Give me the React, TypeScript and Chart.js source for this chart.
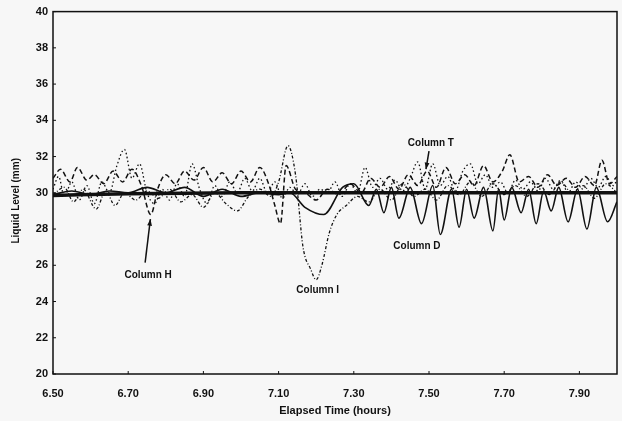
import React, { useEffect, useRef } from "react";
import { Chart, registerables } from "chart.js";

Chart.register(...registerables);

// ---- data ----
const xTickValues = [6.5, 6.7, 6.9, 7.1, 7.3, 7.5, 7.7, 7.9];
const yTickValues = [20, 22, 24, 26, 28, 30, 32, 34, 36, 38, 40];
const xTitle = "Elapsed Time (hours)";
const yTitle = "Liquid Level (mm)";

const refTime = [6.5, 6.7, 7.0, 8.0];
const refLevel = [29.85, 29.95, 30.0, 30.0];

const colDTime = [6.5, 6.55, 6.6, 6.65, 6.7, 6.75, 6.8, 6.85, 6.9, 6.95, 7.0, 7.05, 7.1, 7.13, 7.17, 7.22, 7.27, 7.3, 7.34, 7.36, 7.38, 7.4, 7.42, 7.45, 7.48, 7.51, 7.53, 7.56, 7.58, 7.6, 7.62, 7.645, 7.67, 7.685, 7.7, 7.72, 7.745, 7.765, 7.785, 7.805, 7.825, 7.845, 7.87, 7.895, 7.92, 7.945, 7.975, 8.0];
const colDLevel = [29.9, 30.1, 29.9, 30.1, 30.0, 30.3, 30.0, 30.3, 29.8, 30.2, 29.8, 30.0, 29.9, 30.0, 29.2, 28.8, 30.3, 30.5, 29.3, 30.2, 28.9, 30.3, 28.6, 30.3, 28.3, 30.4, 27.7, 30.2, 28.1, 30.2, 28.6, 30.3, 27.9, 30.2, 28.5, 30.3, 28.9, 30.2, 28.3, 30.1, 29.0, 30.3, 28.4, 30.2, 28.0, 30.3, 28.4, 29.5];

const colHTime = [6.5, 6.52, 6.545, 6.565, 6.59, 6.61, 6.635, 6.66, 6.685, 6.71, 6.735, 6.76, 6.78, 6.8, 6.825, 6.85, 6.875, 6.9, 6.925, 6.95, 6.975, 7.0, 7.025, 7.05, 7.075, 7.09, 7.105, 7.12, 7.145, 7.17, 7.2, 7.23, 7.26, 7.29, 7.32, 7.345, 7.37, 7.395, 7.42, 7.445, 7.47, 7.495, 7.52, 7.545, 7.57, 7.595, 7.62, 7.645, 7.67, 7.695, 7.715, 7.74, 7.765, 7.79, 7.815, 7.84, 7.865, 7.89, 7.915, 7.94, 7.96, 7.98, 8.0];
const colHLevel = [30.8, 31.3, 30.6, 31.4, 30.7, 31.0, 30.5, 31.2, 30.6, 31.3, 30.4, 28.8, 30.3, 31.0, 30.5, 31.2, 30.7, 31.4, 30.6, 31.1, 30.5, 31.2, 30.6, 31.4, 30.4, 29.3, 28.3, 31.5, 30.2, 30.0, 29.6, 30.2, 29.9, 30.5, 30.0, 30.8, 30.3, 30.9, 30.2, 31.0, 30.4, 31.2, 30.3, 31.4, 30.5, 31.0, 30.4, 31.5, 30.6, 31.2, 32.1, 30.6, 30.9, 30.3, 31.0, 30.4, 30.8, 30.3, 30.9, 30.4, 31.8, 30.5, 30.9];

const colTTime = [6.5, 6.515, 6.53, 6.55, 6.57, 6.59, 6.61, 6.63, 6.65, 6.67, 6.69, 6.71, 6.73, 6.75, 6.77, 6.79, 6.81, 6.83, 6.85, 6.87, 6.89, 6.91, 6.93, 6.95, 6.97, 6.99, 7.01, 7.03, 7.05, 7.07, 7.09, 7.11, 7.13, 7.15, 7.17, 7.19, 7.21, 7.23, 7.25, 7.27, 7.29, 7.31, 7.33, 7.35, 7.37, 7.39, 7.41, 7.43, 7.45, 7.47, 7.49, 7.51, 7.53, 7.55, 7.57, 7.59, 7.61, 7.63, 7.65, 7.67, 7.69, 7.71, 7.73, 7.75, 7.77, 7.79, 7.81, 7.83, 7.85, 7.87, 7.89, 7.91, 7.93, 7.95, 7.97, 7.99, 8.0];
const colTLevel = [30.2, 30.9, 29.8, 30.6, 29.6, 30.4, 29.4, 30.6, 30.0, 31.5, 32.4, 30.8, 31.6, 30.0, 29.4, 30.2, 29.6, 30.5, 29.8, 31.6, 30.2, 29.4, 30.4, 29.8, 30.6, 30.0, 30.8, 30.1, 30.8, 30.0, 30.6, 29.7, 30.3, 29.9, 30.5, 29.8, 30.2, 30.0, 30.6, 29.8, 30.5, 30.0, 31.4, 30.3, 30.8, 30.2, 30.7, 30.1, 30.8, 31.7, 30.2, 31.6, 30.4, 30.9, 30.1, 31.2, 31.6, 30.5, 31.0, 30.3, 30.6, 30.0, 30.7, 30.2, 30.6, 30.1, 30.8, 30.2, 30.7, 30.0, 30.6, 30.2, 30.8, 30.3, 30.9, 30.4, 30.7];

const colITime = [6.5, 6.53, 6.555, 6.58, 6.615, 6.64, 6.665, 6.69, 6.72, 6.75, 6.78, 6.81, 6.84, 6.87, 6.9, 6.93, 6.96, 6.99, 7.02, 7.05, 7.08, 7.1, 7.125, 7.145, 7.165, 7.185, 7.2, 7.215, 7.235, 7.255, 7.28, 7.31, 7.34, 7.37, 7.4, 7.43, 7.46, 7.49, 7.52, 7.55, 7.58, 7.61, 7.64, 7.67, 7.7, 7.73, 7.76, 7.79, 7.82, 7.85, 7.88, 7.91, 7.94, 7.97, 8.0];
const colILevel = [29.9, 30.3, 29.5, 30.2, 29.1, 30.1, 29.3, 30.0, 29.6, 30.1, 29.7, 30.2, 29.5, 29.9, 29.2, 30.0, 29.4, 29.0, 29.8, 30.2, 29.8, 30.6, 32.6, 31.0, 27.0, 25.8, 25.2, 26.0, 27.8, 28.8, 29.3, 29.8, 29.5, 30.2, 29.6, 30.5, 29.8, 30.2, 29.6, 30.4, 29.9, 30.6, 29.8, 30.5, 29.9, 30.4, 29.8, 30.5, 29.9, 30.6, 30.0, 30.4, 29.7, 30.5, 30.0];

const labelTexts = ["Column H", "Column I", "Column T", "Column D"];
const labelTime = [6.753, 7.204, 7.505, 7.468];
const labelLevel = [25.45, 24.6, 32.75, 27.05];

const arrowFromTime = [6.745, 7.5];
const arrowFromLevel = [26.15, 32.3];
const arrowToTime = [6.759, 7.492];
const arrowToLevel = [28.55, 31.3];

const pts = (t: number[], v: number[]) => t.map((x, i) => ({ x, y: v[i] }));

const INK = "#111";
const FONT = "'Liberation Sans', Arial, sans-serif";

const decorPlugin = {
  id: "decor",
  afterDatasetsDraw(chart: any) {
    const { ctx, chartArea: a, scales } = chart;
    const xs = scales.x;
    const ys = scales.y;
    ctx.save();
    ctx.strokeStyle = INK;
    ctx.lineWidth = 1.5;
    ctx.strokeRect(a.left, a.top, a.right - a.left, a.bottom - a.top);
    ctx.lineWidth = 1;
    yTickValues.forEach((v) => {
      const py = ys.getPixelForValue(v);
      ctx.beginPath();
      ctx.moveTo(a.left, py);
      ctx.lineTo(a.left + 3, py);
      ctx.stroke();
    });
    xTickValues.forEach((v) => {
      const px = xs.getPixelForValue(v);
      ctx.beginPath();
      ctx.moveTo(px, a.bottom);
      ctx.lineTo(px, a.bottom - 3);
      ctx.stroke();
    });
    ctx.fillStyle = INK;
    ctx.font = `bold 10px ${FONT}`;
    ctx.textAlign = "center";
    ctx.textBaseline = "middle";
    labelTexts.forEach((t, i) => {
      ctx.fillText(t, xs.getPixelForValue(labelTime[i]), ys.getPixelForValue(labelLevel[i]));
    });
    arrowFromTime.forEach((t, i) => {
      const x0 = xs.getPixelForValue(t);
      const y0 = ys.getPixelForValue(arrowFromLevel[i]);
      const x1 = xs.getPixelForValue(arrowToTime[i]);
      const y1 = ys.getPixelForValue(arrowToLevel[i]);
      ctx.lineWidth = 1.5;
      ctx.beginPath();
      ctx.moveTo(x0, y0);
      ctx.lineTo(x1, y1);
      ctx.stroke();
      const ang = Math.atan2(y1 - y0, x1 - x0);
      const L = 7;
      ctx.beginPath();
      ctx.moveTo(x1, y1);
      ctx.lineTo(x1 - L * Math.cos(ang - 0.35), y1 - L * Math.sin(ang - 0.35));
      ctx.lineTo(x1 - L * Math.cos(ang + 0.35), y1 - L * Math.sin(ang + 0.35));
      ctx.closePath();
      ctx.fill();
    });
    // axis titles
    ctx.font = `bold 11px ${FONT}`;
    ctx.fillText(xTitle, (a.left + a.right) / 2, 411);
    ctx.font = `bold 10px ${FONT}`;
    ctx.translate(16, (a.top + a.bottom) / 2 + 8);
    ctx.rotate(-Math.PI / 2);
    ctx.fillText(yTitle, 0, 0);
    ctx.restore();
  },
};

export default function App() {
  const ref = useRef<HTMLCanvasElement | null>(null);
  useEffect(() => {
    if (!ref.current) return;
    const line = (label: string, t: number[], v: number[], w: number, dash: number[]) => ({
      label,
      data: pts(t, v),
      borderColor: INK,
      borderWidth: w,
      borderDash: dash,
      pointRadius: 0,
      fill: false,
      cubicInterpolationMode: "monotone" as const,
    });
    const chart = new Chart(ref.current, {
      type: "line",
      data: {
        datasets: [
          line("Column T", colTTime, colTLevel, 1.3, [1.5, 2.5]),
          line("Column I", colITime, colILevel, 1.3, [3, 2, 1, 2]),
          line("Column H", colHTime, colHLevel, 1.5, [5, 3]),
          line("Column D", colDTime, colDLevel, 1.6, []),
          line("Reference", refTime, refLevel, 3.5, []),
        ],
      },
      plugins: [decorPlugin],
      options: {
        animation: false,
        responsive: false,
        maintainAspectRatio: false,
        layout: { padding: { top: 10, right: 5, left: 0, bottom: 0 } },
        plugins: { legend: { display: false }, tooltip: { enabled: false } },
        scales: {
          x: {
            type: "linear",
            min: 6.5,
            max: 8.0,
            afterBuildTicks: (s: any) => {
              s.ticks = xTickValues.map((value) => ({ value }));
            },
            afterFit: (s: any) => {
              s.height = 47;
            },
            grid: { display: false, drawTicks: false },
            border: { display: false },
            ticks: {
              color: INK,
              font: { family: FONT, size: 11, weight: "bold" },
              padding: 13,
              maxRotation: 0,
              autoSkip: false,
              callback: (v: any) => Number(v).toFixed(2),
            },
          },
          y: {
            type: "linear",
            min: 20,
            max: 40,
            afterBuildTicks: (s: any) => {
              s.ticks = yTickValues.map((value) => ({ value }));
            },
            afterFit: (s: any) => {
              s.width = 53;
            },
            grid: { display: false, drawTicks: false },
            border: { display: false },
            ticks: {
              color: INK,
              font: { family: FONT, size: 11, weight: "bold" },
              padding: 5,
            },
          },
        },
      },
    });
    return () => chart.destroy();
  }, []);
  return (
    <div style={{ position: "fixed", left: 0, top: 0, width: 622, height: 421, background: "#f7f7f7" }}>
      <canvas ref={ref} width={622} height={421} style={{ width: 622, height: 421, display: "block" }} />
    </div>
  );
}
